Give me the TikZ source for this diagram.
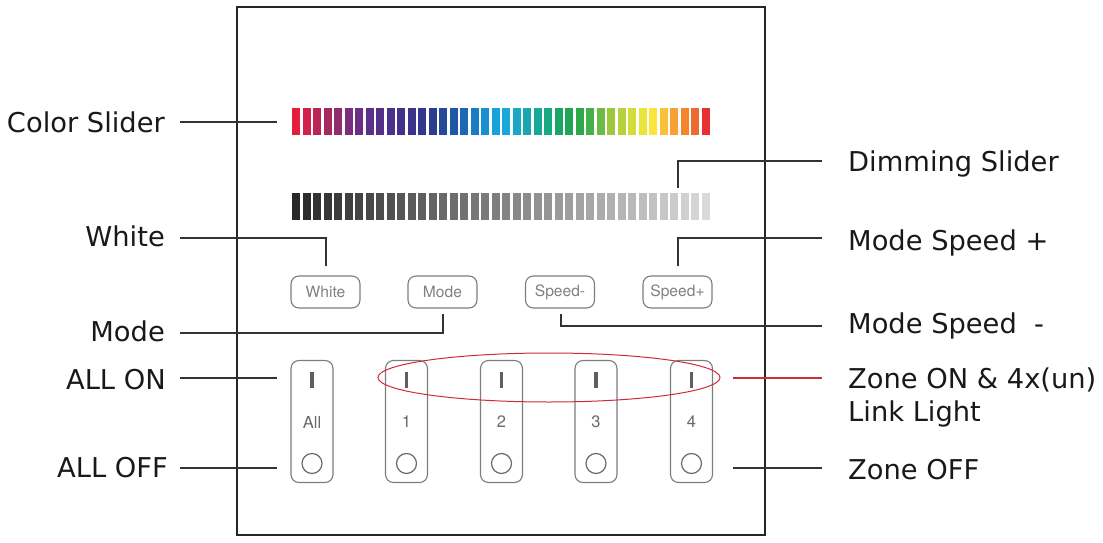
\documentclass[tikz,border=0pt]{standalone}
\usepackage{fontspec}
\setmainfont{DejaVu Sans}
\newfontfamily\btnfont{TeX Gyre Heros}
\usetikzlibrary{shapes.geometric}
\definecolor{lineclr}{HTML}{333333}
\definecolor{btnclr}{HTML}{7C7C7C}
\definecolor{btntxt}{HTML}{6A6A6A}
\definecolor{zonered}{HTML}{D02A3A}
\tikzset{
  lbl/.style={inner sep=0pt, font=\fontsize{27.3}{32}\selectfont, text=black!90},
  conn/.style={draw=lineclr, line width=1.2pt},
  smallbtn/.style={draw=btnclr, line width=1.1pt, rounded corners=8pt, minimum width=69pt, minimum height=32pt, inner sep=0pt, text=btntxt!85, font=\btnfont\fontsize{15.6}{18}\selectfont},
  tallbtn/.style={draw=btnclr, line width=1.1pt, rounded corners=8pt, minimum width=42pt, minimum height=122pt, inner sep=0pt},
  btnnum/.style={inner sep=0pt, text=btntxt, font=\btnfont\fontsize{16.5}{19}\selectfont},
  onbar/.style={draw=btntxt!90!black, line width=3.4pt},
  offcirc/.style={draw=btntxt, line width=1.2pt, circle, minimum size=20pt, inner sep=0pt},
}
\begin{document}
\begin{tikzpicture}[x=1pt,y=-1pt]
\useasboundingbox (0,0) rectangle (1103,543);
% frame
\node[draw=black!85, line width=2.5pt, minimum width=528pt, minimum height=528pt, inner sep=0pt] (frame) at (501,271) {};
% color slider
\def\colorlist{E31E3A,D2214A,B92555,A42A5D,8F2C6E,7B2D7E,6A2E84,5C2F88,523089,4A318B,42328C,3A338C,32368C,2B3D8F,244A98,2057A5,1C68B5,197CC4,1690D2,16A3DC,1AA8D8,1CA8C4,18A9B0,17A898,18A882,1AA66A,20A455,2CA74A,45B049,6CBB45,9CC83D,B5D23C,D4DC3A,EAE53A,FDE43A,FBC03A,F8A032,F4852D,EE6A2F,E63033}
\foreach \c [count=\i from 0] in \colorlist {
  \definecolor{bc}{HTML}{\c}
  \fill[bc] ({292+\i*10.5},108) rectangle ({292+\i*10.5+8.3},135);
}
\coordinate (colorslider) at (292,122);
% dimming slider
\foreach \i in {0,...,39} {
  \pgfmathsetmacro{\g}{84-1.77*\i}
  \fill[black!\g] ({292+\i*10.5},193) rectangle ({292+\i*10.5+8.3},220);
}
\coordinate (dimslider) at (678,193);
% small buttons
\node[smallbtn] (white) at (325.5,292) {White};
\node[smallbtn] (mode) at (442.5,292) {Mode};
\node[smallbtn] (speedm) at (560,292) {Speed-};
\node[smallbtn] (speedp) at (677.5,292) {Speed+};
% tall buttons
\foreach \n/\x/\t in {all/312/All, z1/406.5/1, z2/501.5/2, z3/596/3, z4/691.5/4} {
  \node[tallbtn] (\n) at (\x,421.5) {};
  \draw[onbar] (\x,372) -- (\x,388);
  \node[btnnum] (\n txt) at (\x,422) {\t};
  \node[offcirc] (\n off) at (\x,463.5) {};
}
% ellipse
\node[draw=zonered, line width=1pt, ellipse, minimum width=342pt, minimum height=49pt, inner sep=0pt] (zoneon) at (549,377.5) {};
% labels left
\node[lbl, anchor=base east] (lcolor) at (165,132) {Color Slider};
\node[lbl, anchor=base east] (lwhite) at (165,246) {White};
\node[lbl, anchor=base east] (lmode) at (165,341) {Mode};
\node[lbl, anchor=base east] (lallon) at (166,389) {ALL ON};
\node[lbl, anchor=base east] (lalloff) at (168,477) {ALL OFF};
% labels right
\node[lbl, anchor=base west] (ldim) at (848,171) {Dimming Slider};
\node[lbl, anchor=base west] (lspp) at (848,250) {Mode Speed +};
\node[lbl, anchor=base west] (lspm) at (848,333) {Mode Speed\ \ -};
\node[lbl, anchor=base west] (lzone) at (848,388) {Zone ON \& 4x(un)};
\node[lbl, anchor=base west] (llink) at (848,421) {Link Light};
\node[lbl, anchor=base west] (lzoff) at (848,479) {Zone OFF};
% connector coordinates
\coordinate (a1) at (180,122); \coordinate (a2) at (277,122);
\coordinate (b1) at (180,238); \coordinate (b2) at (326,238); \coordinate (b3) at (326,266);
\coordinate (c1) at (180,333); \coordinate (c2) at (443,333); \coordinate (c3) at (443,314);
\coordinate (d1) at (180,378); \coordinate (d2) at (277,378);
\coordinate (e1) at (180,468); \coordinate (e2) at (277,468);
\coordinate (f1) at (678,188); \coordinate (f2) at (678,161); \coordinate (f3) at (822,161);
\coordinate (g1) at (678,266); \coordinate (g2) at (678,238); \coordinate (g3) at (822,238);
\coordinate (h1) at (561,314); \coordinate (h2) at (561,326); \coordinate (h3) at (822,326);
\coordinate (i1) at (733,378); \coordinate (i2) at (822,378);
\coordinate (j1) at (733,468); \coordinate (j2) at (822,468);
% connectors
\draw[conn] (a1) -- (a2);
\draw[conn] (b1) -- (b2) -- (b3);
\draw[conn] (c1) -- (c2) -- (c3);
\draw[conn] (d1) -- (d2);
\draw[conn] (e1) -- (e2);
\draw[conn] (f1) -- (f2) -- (f3);
\draw[conn] (g1) -- (g2) -- (g3);
\draw[conn] (h1) -- (h2) -- (h3);
\draw[draw=zonered, line width=1.2pt] (i1) -- (i2);
\draw[conn] (j1) -- (j2);
\end{tikzpicture}
\end{document}
